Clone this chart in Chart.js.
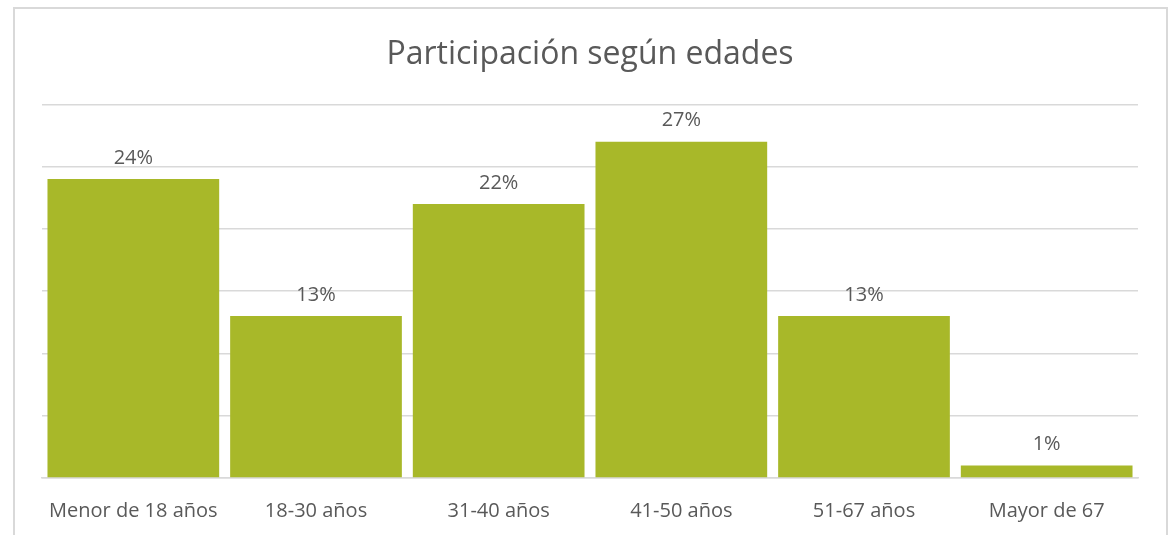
<!DOCTYPE html>
<html>
<head>
<meta charset="utf-8">
<script src="https://cdn.jsdelivr.net/npm/chart.js@4"></script>
<style>
  body { margin: 0; background: #fff; overflow: hidden; }
  #marco {
    position: absolute; left: 13px; top: 7px;
    width: 1151px; height: 560px;
    border: 2px solid #d9d9d9; background: #fff;
  }
  #chart { display: block; }
</style>
</head>
<body>
<div id="marco">
  <div style="width:1151px;height:538px;position:relative;">
    <canvas id="chart"></canvas>
  </div>
</div>
<script>
const categorias = ['Menor de 18 años', '18-30 años', '31-40 años', '41-50 años', '51-67 años', 'Mayor de 67'];
const porcentajes = [24, 13, 22, 27, 13, 1];
const etiquetas = ['24%', '13%', '22%', '27%', '13%', '1%'];

const colorTexto = '#595959';
const fuente = "'Open Sans', sans-serif";

// Plugin para escribir el porcentaje encima de cada barra
const etiquetasBarras = {
    id: 'etiquetasBarras',
    afterDatasetsDraw(chart) {
        const ctx = chart.ctx;
        const meta = chart.getDatasetMeta(0);
        ctx.save();
        ctx.font = "20px " + fuente;
        ctx.fillStyle = colorTexto;
        ctx.textAlign = 'center';
        ctx.textBaseline = 'middle';
        meta.data.forEach((bar, i) => {
            ctx.fillText(etiquetas[i], bar.x, bar.y - 21);
        });
        ctx.restore();
    }
};

const ctx = document.getElementById('chart').getContext('2d');
const chart = new Chart(ctx, {
    type: 'bar',
    data: {
        labels: categorias,
        datasets: [{
            label: 'Participación',
            data: porcentajes,
            backgroundColor: '#a8b829',
            borderWidth: 0,
            categoryPercentage: 1,
            barPercentage: 0.94
        }]
    },
    options: {
        responsive: true,
        maintainAspectRatio: false,
        animation: false,
        layout: {
            padding: { left: 27, right: 28, top: 0, bottom: 3 }
        },
        plugins: {
            legend: { display: false },
            tooltip: { enabled: false },
            title: {
                display: true,
                text: 'Participación según edades',
                color: colorTexto,
                font: { family: fuente, size: 32, weight: 'normal' },
                padding: { top: 27, bottom: 30 }
            }
        },
        scales: {
            x: {
                grid: { display: false, drawTicks: false },
                border: { display: true, color: '#d9d9d9', width: 1.5 },
                ticks: {
                    color: colorTexto,
                    font: { family: fuente, size: 20 },
                    padding: 21,
                    maxRotation: 0
                }
            },
            y: {
                min: 0,
                max: 30,
                ticks: { display: false, stepSize: 5 },
                border: { display: false },
                grid: { color: '#d9d9d9', lineWidth: 1.5, drawTicks: false }
            }
        }
    },
    plugins: [etiquetasBarras]
});
</script>
</body>
</html>
